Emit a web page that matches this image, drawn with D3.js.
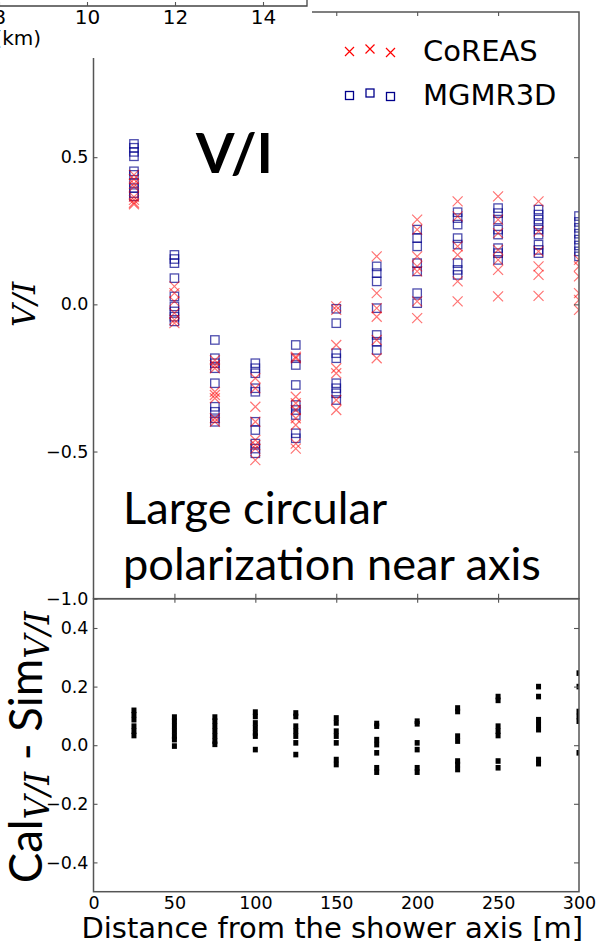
<!DOCTYPE html>
<html>
<head>
<meta charset="utf-8">
<script src="https://d3js.org/d3.v7.min.js"></script>
<style>
  body { margin: 0; background: #fff; }
  svg { display: block; }
</style>
</head>
<body>
<script>
// antenna distances from the shower axis [m]
var distances = [25, 50, 75, 100, 125, 150, 175, 200, 225, 250, 275, 300];

// V/I, one list per distance
var coreas = [
    [0.44, 0.425, 0.41, 0.40, 0.365, 0.355, 0.345, 0.34],
    [0.061, 0.038, 0.01, -0.03, -0.053, -0.064],
    [-0.19, -0.206, -0.217, -0.297, -0.308, -0.319, -0.387, -0.399],
    [-0.251, -0.285, -0.348, -0.399, -0.461, -0.478, -0.49, -0.529],
    [-0.178, -0.183, -0.314, -0.336, -0.359, -0.387, -0.41, -0.473, -0.49],
    [-0.007, -0.019, -0.138, -0.217, -0.234, -0.325, -0.359],
    [0.163, 0.038, -0.013, -0.042, -0.121, -0.183],
    [0.288, 0.254, 0.163, 0.129, 0.112, 0.01, -0.047],
    [0.35, 0.299, 0.197, 0.168, 0.078, 0.01],
    [0.367, 0.288, 0.242, 0.185, 0.151, 0.117, 0.027],
    [0.35, 0.248, 0.18, 0.129, 0.1, 0.029],
    [0.151, 0.129, 0.095, 0.038, 0.015, -0.019]
];
var mgmr3d = [
    [0.545, 0.532, 0.518, 0.503, 0.452, 0.44, 0.412, 0.395, 0.378, 0.367],
    [0.168, 0.154, 0.14, 0.089, 0.027, -0.007, -0.024, -0.042, -0.058],
    [-0.121, -0.183, -0.2, -0.217, -0.268, -0.348, -0.365, -0.387, -0.399],
    [-0.2, -0.217, -0.234, -0.285, -0.297, -0.399, -0.427, -0.473, -0.49, -0.506],
    [-0.138, -0.183, -0.206, -0.274, -0.342, -0.359, -0.376, -0.438, -0.455],
    [-0.015, -0.064, -0.166, -0.183, -0.268, -0.285, -0.302, -0.325],
    [0.129, 0.106, 0.078, -0.013, -0.104, -0.127, -0.155],
    [0.254, 0.225, 0.197, 0.14, 0.112, 0.038, 0.004],
    [0.313, 0.293, 0.271, 0.225, 0.203, 0.14, 0.117, 0.1],
    [0.327, 0.31, 0.288, 0.254, 0.237, 0.191, 0.174, 0.151],
    [0.322, 0.305, 0.288, 0.271, 0.254, 0.237, 0.203, 0.185, 0.174],
    [0.3, 0.28, 0.26, 0.24, 0.22, 0.2, 0.18, 0.163]
];
// Cal - Sim
var residuals = [
    [0.119, 0.104, 0.087, 0.065, 0.048, 0.033],
    [0.096, 0.082, 0.065, 0.048, 0.031, 0.019, -0.003],
    [0.096, 0.082, 0.065, 0.048, 0.031, 0.014, 0.003],
    [0.113, 0.098, 0.076, 0.059, 0.042, 0.031, -0.015],
    [0.11, 0.098, 0.065, 0.048, 0.031, 0.008, -0.032],
    [0.093, 0.076, 0.048, 0.031, 0.008, -0.049, -0.066],
    [0.074, 0.065, 0.019, 0.002, -0.026, -0.077, -0.092],
    [0.082, 0.073, 0.008, -0.015, -0.077, -0.092],
    [0.127, 0.115, 0.031, 0.014, -0.054, -0.066, -0.083],
    [0.166, 0.153, 0.065, 0.048, 0.033, -0.054, -0.077],
    [0.2, 0.166, 0.087, 0.07, 0.053, -0.049, -0.063],
    [0.246, 0.2, 0.115, 0.098, 0.082, -0.026]
];

var topTicks = [0.5, 0.0, -0.5, -1.0];
var bottomTicks = [0.4, 0.2, 0.0, -0.2, -0.4];
var xTicks = [0, 50, 100, 150, 200, 250, 300];
var innerXTicks = [50, 100, 150, 200, 250];
var legendNames = ['CoREAS', 'MGMR3D'];
// bit of the neighbouring figure overlapping the top left corner
var prevTicks = [8, 10, 12, 14];

var width = 615, height = 951;
var left = 93.5, right = 579;
var top1 = 12, mid = 598.7, bottom2 = 891.7;
var frameColor = '#555';
var tickFont = "17.5px 'DejaVu Sans'";

var svg = d3.select('body').append('svg').attr('width', width).attr('height', height);

var x = d3.scaleLinear().domain([0, 300]).range([left, right]);
var yTop = d3.scaleLinear().domain([-1, 1]).range([mid, 10]);
var yBot = d3.scaleLinear().domain([-0.5, 0.5]).range([bottom2, mid]);

function flatten(lists) {
    var out = [];
    lists.forEach(function(vals, i) {
        vals.forEach(function(v) { out.push({d: distances[i], v: v}); });
    });
    return out;
}

var defs = svg.append('defs');
defs.append('clipPath').attr('id', 'clipTop').append('rect')
    .attr('x', left).attr('y', top1).attr('width', right - left).attr('height', mid - top1);
defs.append('clipPath').attr('id', 'clipBot').append('rect')
    .attr('x', left).attr('y', mid).attr('width', right - left).attr('height', bottom2 - mid);

var crossPath = 'M-5,-5L5,5M-5,5L5,-5';

// ---- top panel: V/I
var gTop = svg.append('g').attr('clip-path', 'url(#clipTop)');
gTop.selectAll('rect.mg').data(flatten(mgmr3d)).join('rect')
    .attr('class', 'mg')
    .attr('x', function(d) { return x(d.d) - 4.2; })
    .attr('y', function(d) { return yTop(d.v) - 4.2; })
    .attr('width', 8.4).attr('height', 8.4)
    .attr('fill', 'none').attr('stroke', '#00008b')
    .attr('stroke-width', 1.3).attr('stroke-opacity', 0.7);
gTop.selectAll('path.co').data(flatten(coreas)).join('path')
    .attr('class', 'co')
    .attr('d', crossPath)
    .attr('transform', function(d) { return 'translate(' + x(d.d) + ',' + yTop(d.v) + ')'; })
    .attr('fill', 'none').attr('stroke', 'red')
    .attr('stroke-width', 1.2).attr('stroke-opacity', 0.55);

// ---- bottom panel: residuals
var gBot = svg.append('g').attr('clip-path', 'url(#clipBot)');
gBot.selectAll('rect').data(flatten(residuals)).join('rect')
    .attr('x', function(d) { return x(d.d) - 2.5; })
    .attr('y', function(d) { return yBot(d.v) - 2.8; })
    .attr('width', 5).attr('height', 5.6)
    .attr('fill', '#000');

// ---- axes
function styleAxis(g, font) {
    g.select('.domain').remove();
    g.selectAll('.tick line').attr('stroke', frameColor).attr('stroke-width', 1.1);
    g.selectAll('.tick text').style('font', font || tickFont).attr('fill', '#000');
}
var fmt = d3.format('.1f');

svg.append('g').attr('transform', 'translate(' + left + ',0)')
    .call(d3.axisLeft(yTop).tickValues(topTicks).tickFormat(fmt).tickSizeInner(-4).tickSizeOuter(0).tickPadding(5))
    .call(styleAxis);
svg.append('g').attr('transform', 'translate(' + right + ',0)')
    .call(d3.axisRight(yTop).tickValues(topTicks.slice(0, 3)).tickFormat('').tickSizeInner(-5).tickSizeOuter(0))
    .call(styleAxis);
svg.append('g').attr('transform', 'translate(0,' + top1 + ')')
    .call(d3.axisTop(x).tickValues(innerXTicks).tickFormat('').tickSizeInner(-4).tickSizeOuter(0))
    .call(styleAxis);
svg.append('g').attr('transform', 'translate(0,' + mid + ')')
    .call(d3.axisBottom(x).tickValues(innerXTicks).tickFormat('').tickSizeInner(-5).tickSizeOuter(0))
    .call(styleAxis);
svg.append('g').attr('transform', 'translate(0,' + mid + ')')
    .call(d3.axisTop(x).tickValues(innerXTicks).tickFormat('').tickSizeInner(-4).tickSizeOuter(0))
    .call(styleAxis);

svg.append('g').attr('transform', 'translate(' + left + ',0)')
    .call(d3.axisLeft(yBot).tickValues(bottomTicks).tickFormat(fmt).tickSizeInner(-4).tickSizeOuter(0).tickPadding(5))
    .call(styleAxis);
svg.append('g').attr('transform', 'translate(' + right + ',0)')
    .call(d3.axisRight(yBot).tickValues(bottomTicks).tickFormat('').tickSizeInner(-5).tickSizeOuter(0))
    .call(styleAxis);
svg.append('g').attr('transform', 'translate(0,' + bottom2 + ')')
    .call(d3.axisBottom(x).tickValues(xTicks).tickFormat(d3.format('d')).tickSize(0).tickPadding(5))
    .call(styleAxis);

// frames
svg.append('rect').attr('x', left).attr('y', top1).attr('width', right - left).attr('height', mid - top1)
    .attr('fill', 'none').attr('stroke', frameColor).attr('stroke-width', 1.5);
svg.append('rect').attr('x', left).attr('y', mid).attr('width', right - left).attr('height', bottom2 - mid)
    .attr('fill', 'none').attr('stroke', frameColor).attr('stroke-width', 1.5);

function fitWidth(t, w) {
    var fs = parseFloat(t.style('font-size'));
    t.style('font-size', (fs * w / t.node().getComputedTextLength()) + 'px');
}

// axis titles
svg.append('text')
    .attr('transform', 'translate(35,' + yTop(0) + ') rotate(-90)')
    .attr('text-anchor', 'middle')
    .style('font', "italic 31px 'DejaVu Serif'")
    .text('V/I');

var lab = svg.append('text')
    .attr('transform', 'translate(42,' + (yBot(0) + 2) + ') rotate(-90)')
    .attr('text-anchor', 'middle')
    .style('font', "40px Lato");
function sub(t) {
    t.style('font-size', '0.72em').style('font-family', 'DejaVu Serif').style('font-style', 'italic');
}
lab.append('tspan').text('Cal');
lab.append('tspan').attr('dy', '0.22em').call(sub).text('V/I');
lab.append('tspan').attr('dy', '-0.16em').text(' - Sim');
lab.append('tspan').attr('dy', '0.22em').call(sub).text('V/I');
fitWidth(lab, 272);

svg.append('text')
    .attr('x', (left + right) / 2 - 4).attr('y', 938)
    .attr('text-anchor', 'middle')
    .style('font', "29px 'DejaVu Sans'")
    .text('Distance from the shower axis [m]');

// legend
var legY = [50, 94];
var legend = svg.append('g');
[349.5, 370, 390.5].forEach(function(lx, k) {
    var jitter = [1.5, -1, 2.5][k];
    legend.append('path').attr('d', 'M-4.5,-4.5L4.5,4.5M-4.5,4.5L4.5,-4.5')
        .attr('transform', 'translate(' + lx + ',' + (legY[0] + jitter) + ')')
        .attr('stroke', 'red').attr('stroke-width', 1.2).attr('fill', 'none');
    legend.append('rect').attr('x', lx - 4).attr('y', legY[1] + jitter - 4)
        .attr('width', 8).attr('height', 8)
        .attr('stroke', '#00008b').attr('stroke-width', 1.3).attr('fill', 'none');
});
legend.selectAll('text').data(legendNames).join('text')
    .attr('x', 423).attr('y', function(d, i) { return legY[i] + 11; })
    .style('font', "29px 'DejaVu Sans'")
    .text(function(d) { return d; });

// annotations
var big = svg.append('text').attr('x', 196).attr('y', 173)
    .style('font', "bold 58px Lato").text('V/I');
fitWidth(big, 77);
var note1 = svg.append('text').attr('x', 123).attr('y', 524)
    .style('font', "44px Lato").text('Large circular');
var note2 = svg.append('text').attr('x', 123).attr('y', 580)
    .style('font', "44px Lato").text('polarization near axis');
fitWidth(note2, 418);
note1.style('font-size', note2.style('font-size'));

// neighbouring figure fragment
var prev = svg.append('g');
prev.append('rect').attr('x', 0).attr('y', 0).attr('width', 312).attr('height', 58).attr('fill', '#fff');
var px = d3.scaleLinear().domain([10, 14]).range([87, 263]);
prev.append('path').attr('d', 'M0,6H307V0').attr('fill', 'none').attr('stroke', '#444').attr('stroke-width', 1.3);
prev.append('g').attr('transform', 'translate(0,6)')
    .call(d3.axisBottom(px).tickValues(prevTicks).tickFormat(d3.format('d')).tickSizeInner(-4).tickSizeOuter(0).tickPadding(4))
    .call(styleAxis, "20px 'DejaVu Sans'");
prev.append('text').attr('x', 41).attr('y', 45).attr('text-anchor', 'end')
    .style('font', "20px 'DejaVu Sans'").text('(km)');
</script>
</body>
</html>
